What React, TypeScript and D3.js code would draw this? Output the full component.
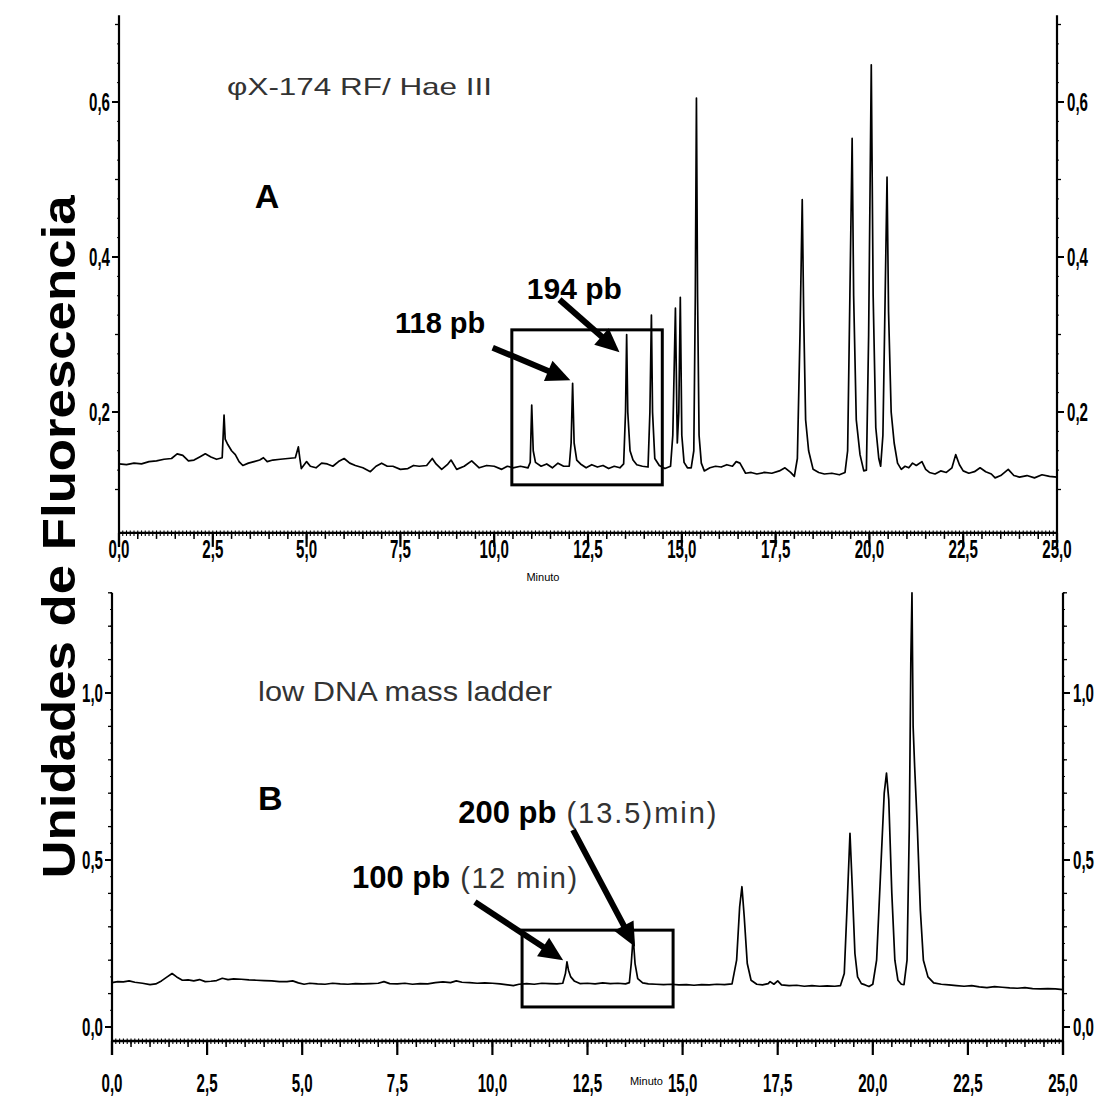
import React from "react";
import * as d3 from "d3";

// ---- Data ----
// Panel A: phiX-174 RF / Hae III  [minute, fluorescence]
const traceA: [number, number][] = [
  [0.0,0.133],[0.2,0.132],[0.4,0.134],[0.6,0.133],[0.8,0.136],[1.0,0.137],[1.2,0.139],[1.4,0.140],[1.55,0.146],[1.7,0.144],[1.85,0.137],[2.0,0.138],[2.15,0.142],[2.3,0.146],[2.45,0.142],[2.6,0.139],[2.75,0.141],[2.8,0.196],[2.83,0.165],[2.9,0.158],[3.0,0.150],[3.1,0.145],[3.2,0.136],[3.3,0.131],[3.45,0.134],[3.6,0.136],[3.75,0.138],[3.85,0.141],[3.95,0.136],[4.1,0.138],[4.3,0.139],[4.5,0.140],[4.7,0.141],[4.78,0.155],[4.82,0.140],[4.86,0.127],[5.0,0.136],[5.1,0.130],[5.25,0.128],[5.4,0.134],[5.55,0.133],[5.7,0.130],[5.85,0.136],[6.0,0.140],[6.15,0.134],[6.3,0.131],[6.5,0.128],[6.7,0.123],[6.85,0.130],[7.0,0.134],[7.15,0.130],[7.3,0.130],[7.5,0.126],[7.7,0.127],[7.85,0.131],[8.0,0.130],[8.2,0.131],[8.35,0.140],[8.45,0.133],[8.6,0.126],[8.75,0.132],[8.85,0.138],[9.0,0.126],[9.2,0.130],[9.4,0.137],[9.6,0.128],[9.8,0.131],[10.0,0.130],[10.2,0.126],[10.35,0.130],[10.5,0.128],[10.7,0.130],[10.9,0.128],[10.96,0.135],[11.0,0.209],[11.04,0.150],[11.1,0.135],[11.25,0.130],[11.4,0.133],[11.55,0.128],[11.7,0.134],[11.85,0.130],[12.0,0.130],[12.05,0.16],[12.09,0.237],[12.13,0.160],[12.2,0.138],[12.3,0.133],[12.45,0.128],[12.6,0.132],[12.75,0.129],[12.9,0.131],[13.05,0.127],[13.2,0.130],[13.35,0.128],[13.45,0.133],[13.5,0.2],[13.53,0.300],[13.56,0.2],[13.62,0.150],[13.7,0.138],[13.8,0.132],[13.95,0.130],[14.1,0.129],[14.15,0.2],[14.19,0.325],[14.22,0.2],[14.28,0.14],[14.4,0.131],[14.55,0.127],[14.7,0.130],[14.76,0.17],[14.83,0.334],[14.88,0.16],[14.92,0.2],[14.96,0.348],[15.0,0.17],[15.06,0.135],[15.15,0.128],[15.25,0.128],[15.32,0.15],[15.36,0.35],[15.39,0.605],[15.42,0.35],[15.46,0.17],[15.52,0.134],[15.6,0.124],[15.75,0.128],[15.9,0.130],[16.05,0.129],[16.2,0.132],[16.35,0.130],[16.45,0.136],[16.55,0.134],[16.7,0.121],[16.85,0.122],[17.0,0.120],[17.2,0.122],[17.4,0.121],[17.6,0.124],[17.75,0.128],[17.9,0.122],[18.0,0.117],[18.08,0.14],[18.15,0.30],[18.21,0.474],[18.25,0.32],[18.3,0.19],[18.38,0.15],[18.5,0.126],[18.65,0.122],[18.8,0.120],[19.0,0.121],[19.2,0.119],[19.35,0.122],[19.42,0.15],[19.48,0.35],[19.54,0.553],[19.58,0.35],[19.65,0.19],[19.75,0.145],[19.85,0.124],[19.92,0.125],[19.98,0.30],[20.05,0.648],[20.1,0.35],[20.17,0.18],[20.25,0.14],[20.3,0.13],[20.36,0.17],[20.42,0.35],[20.47,0.503],[20.51,0.33],[20.58,0.20],[20.66,0.16],[20.75,0.134],[20.85,0.126],[20.95,0.130],[21.05,0.128],[21.15,0.134],[21.25,0.131],[21.4,0.136],[21.5,0.126],[21.6,0.122],[21.75,0.120],[21.9,0.124],[22.05,0.122],[22.2,0.128],[22.3,0.145],[22.4,0.132],[22.5,0.124],[22.65,0.121],[22.8,0.123],[22.95,0.128],[23.1,0.123],[23.25,0.120],[23.35,0.115],[23.5,0.118],[23.7,0.126],[23.85,0.118],[24.0,0.116],[24.2,0.118],[24.4,0.115],[24.6,0.119],[24.8,0.117],[25.0,0.116]
];

// Panel B: low DNA mass ladder  [minute, fluorescence]
const traceB: [number, number][] = [
  [0.0,0.133],[0.15,0.136],[0.3,0.135],[0.45,0.138],[0.6,0.134],[0.8,0.131],[1.0,0.127],[1.15,0.129],[1.3,0.138],[1.45,0.150],[1.58,0.160],[1.7,0.150],[1.85,0.140],[2.0,0.141],[2.15,0.138],[2.3,0.142],[2.45,0.136],[2.6,0.137],[2.75,0.139],[2.9,0.146],[3.05,0.142],[3.2,0.144],[3.4,0.143],[3.6,0.141],[3.8,0.140],[4.0,0.139],[4.2,0.138],[4.4,0.136],[4.6,0.136],[4.75,0.138],[4.9,0.132],[5.05,0.128],[5.2,0.131],[5.4,0.129],[5.6,0.128],[5.8,0.131],[6.0,0.129],[6.2,0.128],[6.4,0.130],[6.6,0.129],[6.8,0.130],[7.0,0.131],[7.15,0.136],[7.3,0.130],[7.5,0.129],[7.7,0.131],[7.9,0.128],[8.1,0.130],[8.3,0.129],[8.5,0.133],[8.7,0.135],[8.9,0.133],[9.05,0.138],[9.2,0.134],[9.4,0.133],[9.6,0.131],[9.8,0.132],[10.0,0.131],[10.2,0.129],[10.4,0.126],[10.55,0.124],[10.7,0.128],[10.9,0.130],[11.1,0.128],[11.3,0.131],[11.5,0.130],[11.7,0.129],[11.85,0.131],[11.92,0.16],[11.96,0.195],[12.0,0.17],[12.06,0.15],[12.15,0.138],[12.3,0.130],[12.5,0.131],[12.7,0.129],[12.9,0.132],[13.1,0.130],[13.3,0.131],[13.5,0.129],[13.6,0.133],[13.65,0.19],[13.7,0.27],[13.75,0.19],[13.82,0.145],[13.95,0.132],[14.1,0.129],[14.3,0.128],[14.5,0.127],[14.7,0.128],[14.9,0.126],[15.1,0.127],[15.3,0.125],[15.5,0.127],[15.7,0.126],[15.9,0.128],[16.1,0.127],[16.3,0.129],[16.42,0.2],[16.5,0.36],[16.56,0.42],[16.62,0.33],[16.7,0.19],[16.8,0.14],[16.95,0.128],[17.1,0.126],[17.25,0.130],[17.3,0.136],[17.4,0.128],[17.5,0.138],[17.6,0.126],[17.8,0.124],[18.0,0.125],[18.2,0.122],[18.4,0.124],[18.6,0.122],[18.8,0.123],[19.0,0.122],[19.15,0.124],[19.25,0.16],[19.32,0.35],[19.4,0.58],[19.46,0.42],[19.53,0.22],[19.6,0.15],[19.7,0.13],[19.8,0.126],[19.9,0.121],[20.0,0.128],[20.1,0.2],[20.2,0.45],[20.3,0.7],[20.36,0.76],[20.42,0.68],[20.5,0.4],[20.58,0.2],[20.66,0.14],[20.75,0.128],[20.82,0.127],[20.9,0.2],[20.96,0.6],[21.0,1.1],[21.03,1.3],[21.06,0.9],[21.1,0.78],[21.17,0.6],[21.25,0.35],[21.33,0.2],[21.45,0.15],[21.6,0.132],[21.8,0.128],[22.0,0.126],[22.2,0.124],[22.4,0.122],[22.6,0.124],[22.8,0.120],[23.0,0.118],[23.2,0.121],[23.4,0.119],[23.6,0.117],[23.8,0.116],[24.0,0.118],[24.2,0.115],[24.4,0.114],[24.6,0.115],[24.8,0.114],[25.0,0.112]
];

const xTicks = [0, 2.5, 5, 7.5, 10, 12.5, 15, 17.5, 20, 22.5, 25];
const xTickLabels = ["0,0", "2,5", "5,0", "7,5", "10,0", "12,5", "15,0", "17,5", "20,0", "22,5", "25,0"];
const yTicksA = [0.2, 0.4, 0.6];
const yTickLabelsA = ["0,2", "0,4", "0,6"];
const yTicksB = [0, 0.5, 1.0];
const yTickLabelsB = ["0,0", "0,5", "1,0"];

// highlight boxes [t0, t1, vLow, vHigh]
const boxA = [10.47, 14.48, 0.106, 0.306];
const boxB = [10.78, 14.75, 0.06, 0.29];

// arrows [fromT, fromV, toT, toV]
const arrowsA = [
  [9.96, 0.283, 12.03, 0.241],
  [11.74, 0.345, 13.34, 0.277],
];
const arrowsB = [
  [9.54, 0.374, 11.86, 0.2],
  [12.12, 0.59, 13.75, 0.24],
];

const W = 1100;
const H = 1097;
const FONT = "Arial, 'Liberation Sans', Helvetica, sans-serif";
const SQ = 0.58; // horizontal squeeze for the narrow tick-label font

function Arrow({ x1, y1, x2, y2 }: { x1: number; y1: number; x2: number; y2: number }) {
  const dx = x2 - x1, dy = y2 - y1;
  const L = Math.hypot(dx, dy);
  const ux = dx / L, uy = dy / L;
  const hl = 24, hw = 11;
  const bx = x2 - ux * hl, by = y2 - uy * hl;
  const px = -uy, py = ux;
  const pts = `${x2},${y2} ${bx + px * hw},${by + py * hw} ${bx - px * hw},${by - py * hw}`;
  return (
    <g>
      <line x1={x1} y1={y1} x2={bx + ux * 2} y2={by + uy * 2} stroke="#000" strokeWidth={6} />
      <polygon points={pts} fill="#000" />
    </g>
  );
}

function TickLabel({ x, y, anchor, children }: any) {
  return (
    <text transform={`translate(${x},${y}) scale(${SQ},1)`} textAnchor={anchor} fontFamily={FONT}
      fontWeight="bold" fontSize={26}>{children}</text>
  );
}

function Panel({
  x, y, trace, yTicks, yLabels, yTop, yAxisV, yBottomExt, minorStep, tinyStep, minorMax, minorMin,
}: any) {
  const [x0, x1] = x.range();
  const axisY = y(yAxisV);
  const topY = y(yTop);
  const line = d3.line<[number, number]>().x((d) => x(d[0])).y((d) => y(d[1]));
  const tiny = d3.range(0, 25.0001, 0.1);
  const med = d3.range(0, 25.0001, 0.5);
  const yMinor = d3.range(minorMin, minorMax + 1e-6, minorStep);
  const yTiny = d3.range(minorMin, minorMax + 1e-6, tinyStep);
  return (
    <g>
      {/* axes */}
      <line x1={x0} x2={x0} y1={topY} y2={axisY + yBottomExt} stroke="#000" strokeWidth={2.2} />
      <line x1={x1} x2={x1} y1={topY} y2={axisY + yBottomExt} stroke="#000" strokeWidth={2.2} />
      <line x1={x0} x2={x1} y1={axisY} y2={axisY} stroke="#000" strokeWidth={2.4} />
      {tiny.map((t: number, i: number) => (
        <line key={"t" + i} x1={x(t)} x2={x(t)} y1={axisY - 2.5} y2={axisY + 3} stroke="#000" strokeWidth={1.1} />
      ))}
      {med.map((t: number, i: number) => (
        <line key={"m" + i} x1={x(t)} x2={x(t)} y1={axisY} y2={axisY + 6} stroke="#000" strokeWidth={1.5} />
      ))}
      {xTicks.map((t, i) => (
        <line key={"M" + i} x1={x(t)} x2={x(t)} y1={axisY} y2={axisY + 14} stroke="#000" strokeWidth={2.2} />
      ))}
      {/* y minor ticks */}
      {yTiny.map((v: number, i: number) => (
        <g key={"yt" + i}>
          <line x1={x0 - 2} x2={x0} y1={y(v)} y2={y(v)} stroke="#000" strokeWidth={1} />
          <line x1={x1} x2={x1 + 2} y1={y(v)} y2={y(v)} stroke="#000" strokeWidth={1} />
        </g>
      ))}
      {yMinor.map((v: number, i: number) => (
        <g key={"ym" + i}>
          <line x1={x0 - 4} x2={x0} y1={y(v)} y2={y(v)} stroke="#000" strokeWidth={1.3} />
          <line x1={x1} x2={x1 + 4} y1={y(v)} y2={y(v)} stroke="#000" strokeWidth={1.3} />
        </g>
      ))}
      {yTicks.map((v: number, i: number) => (
        <g key={"yM" + i}>
          <line x1={x0 - 7} x2={x0} y1={y(v)} y2={y(v)} stroke="#000" strokeWidth={2} />
          <line x1={x1} x2={x1 + 7} y1={y(v)} y2={y(v)} stroke="#000" strokeWidth={2} />
          <TickLabel x={x0 - 9} y={y(v) + 9} anchor="end">{yLabels[i]}</TickLabel>
          <TickLabel x={x1 + 10} y={y(v) + 9} anchor="start">{yLabels[i]}</TickLabel>
        </g>
      ))}
      {/* trace */}
      <path d={line(trace) || ""} fill="none" stroke="#000" strokeWidth={1.7} strokeLinejoin="round" />
    </g>
  );
}

export default function App() {
  const xA = d3.scaleLinear().domain([0, 25]).range([119, 1057]);
  const yA = d3.scaleLinear().domain([0, 0.6]).range([567, 102]);
  const xB = d3.scaleLinear().domain([0, 25]).range([112, 1063]);
  const yB = d3.scaleLinear().domain([0, 1]).range([1027, 693]);

  const axisA = yA(0.044);
  const axisB = yB(-0.042);

  return (
    <svg width={W} height={H} style={{ display: "block", position: "absolute", left: 0, top: 0, background: "#fff" }}>
      <rect x={0} y={0} width={W} height={H} fill="#fff" />
      {/* Y title */}
      <text transform={`translate(75,537) rotate(-90)`} textAnchor="middle" fontFamily={FONT} fontWeight="bold"
        fontSize={46} textLength={683} lengthAdjust="spacingAndGlyphs">Unidades de Fluorescencia</text>

      <Panel x={xA} y={yA} trace={traceA} yTicks={yTicksA} yLabels={yTickLabelsA} yTop={0.712} yAxisV={0.044}
        yBottomExt={14} minorStep={0.1} tinyStep={0.025} minorMin={0.1} minorMax={0.7} />
      <Panel x={xB} y={yB} trace={traceB} yTicks={yTicksB} yLabels={yTickLabelsB} yTop={1.3} yAxisV={-0.042}
        yBottomExt={14} minorStep={0.1} tinyStep={0.05} minorMin={0} minorMax={1.3} />

      {/* X tick labels */}
      {xTicks.map((t, i) => (
        <TickLabel key={"xa" + i} x={xA(t)} y={axisA + 25} anchor="middle">{xTickLabels[i]}</TickLabel>
      ))}
      {xTicks.map((t, i) => (
        <TickLabel key={"xb" + i} x={xB(t)} y={axisB + 51} anchor="middle">{xTickLabels[i]}</TickLabel>
      ))}
      <text x={xA(11.3)} y={axisA + 48} textAnchor="middle" fontFamily={FONT} fontSize={11}>Minuto</text>
      <text x={xB(14.05)} y={axisB + 44} textAnchor="middle" fontFamily={FONT} fontSize={11}>Minuto</text>

      {/* boxes */}
      <rect x={xA(boxA[0])} y={yA(boxA[3])} width={xA(boxA[1]) - xA(boxA[0])} height={yA(boxA[2]) - yA(boxA[3])}
        fill="none" stroke="#000" strokeWidth={3} />
      <rect x={xB(boxB[0])} y={yB(boxB[3])} width={xB(boxB[1]) - xB(boxB[0])} height={yB(boxB[2]) - yB(boxB[3])}
        fill="none" stroke="#000" strokeWidth={3} />

      {/* arrows */}
      {arrowsA.map((a, i) => (
        <Arrow key={"aa" + i} x1={xA(a[0])} y1={yA(a[1])} x2={xA(a[2])} y2={yA(a[3])} />
      ))}
      {arrowsB.map((a, i) => (
        <Arrow key={"ab" + i} x1={xB(a[0])} y1={yB(a[1])} x2={xB(a[2])} y2={yB(a[3])} />
      ))}

      {/* Panel A annotations */}
      <text x={xA(2.88)} y={yA(0.609)} fontFamily={FONT} fontSize={24} fill="#333" textLength={265}
        lengthAdjust="spacingAndGlyphs">φX-174 RF/ Hae III</text>
      <text x={xA(3.62)} y={yA(0.463)} fontFamily={FONT} fontWeight="bold" fontSize={34}>A</text>
      <text x={xA(7.356)} y={yA(0.302)} fontFamily={FONT} fontWeight="bold" fontSize={29}>118 pb</text>
      <text x={xA(10.87)} y={yA(0.346)} fontFamily={FONT} fontWeight="bold" fontSize={30}>194 pb</text>

      {/* Panel B annotations */}
      <text x={xB(3.84)} y={yB(0.976)} fontFamily={FONT} fontSize={28} fill="#333" textLength={294}
        lengthAdjust="spacingAndGlyphs">low DNA mass ladder</text>
      <text x={xB(3.84)} y={yB(0.65)} fontFamily={FONT} fontWeight="bold" fontSize={34}>B</text>
      <text x={xB(9.1)} y={yB(0.611)} fontFamily={FONT} fontWeight="bold" fontSize={31}>
        200 pb
        <tspan dx={10} fontWeight="normal" fill="#333" fontSize={29} letterSpacing={2}>(13.5)min)</tspan>
      </text>
      <text x={xB(6.31)} y={yB(0.416)} fontFamily={FONT} fontWeight="bold" fontSize={31}>
        100 pb
        <tspan dx={10} fontWeight="normal" fill="#333" fontSize={29} letterSpacing={1.5}>(12 min)</tspan>
      </text>
    </svg>
  );
}
